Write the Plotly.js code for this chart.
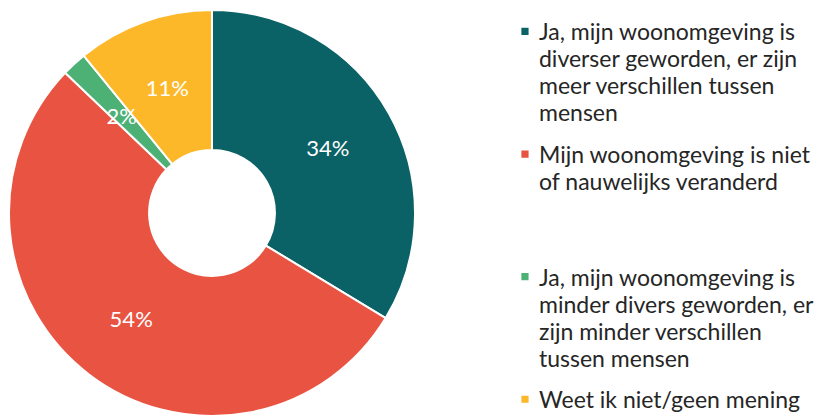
<!DOCTYPE html>
<html>
<head>
<meta charset="utf-8">
<script src="https://cdn.plot.ly/plotly-3.0.1.min.js"></script>
<style>html,body{margin:0;padding:0;background:#fff;overflow:hidden;}#chart{width:818px;height:416px;}</style>
</head>
<body>
<div id="chart"></div>
<script>
const labels = [
  "Ja, mijn woonomgeving is<br>diverser geworden, er zijn<br>meer verschillen tussen<br>mensen",
  "Mijn woonomgeving is niet<br>of nauwelijks veranderd",
  "Ja, mijn woonomgeving is<br>minder divers geworden, er<br>zijn minder verschillen<br>tussen mensen",
  "Weet ik niet/geen mening"
];
const values = [34, 54, 2, 11];
const colors = ["#0b6266", "#e95341", "#4db175", "#fdb829"];

// ---- styling / geometry (not data) ----
const W = 818, H = 416, MT = 10;
const cx = 212, cy = 213;           // pie centre in px
const R = 203;                      // outer radius px
const labelR = 133;                 // radius where slice labels sit
const hole = 0.31;
const plotH = H - MT;

function domainFor(r) {
  return {
    x: [(cx - r) / W, (cx + r) / W],
    y: [(H - cy - r) / plotH, (H - cy + r) / plotH]
  };
}

// extra blank lines after the 2nd legend entry to reproduce the gap
const legendLabels = labels.map((l, i) => i === 1 ? l + "<br>\u00a0<br>\u00a0" : l);
const pctText = values.map(v => v + "%");
const total = values.reduce((a, b) => a + b, 0);

// which slices get their label on the main pie (the ones wide enough)
const bigSlice = values.map(v => v / total > 0.2);

const mainTrace = {
  type: "pie",
  labels: legendLabels,
  values: values,
  marker: { colors: colors, line: { color: "#ffffff", width: 2 } },
  hole: hole,
  sort: false,
  direction: "clockwise",
  rotation: 0,
  text: pctText.map((t, i) => bigSlice[i] ? t : ""),
  textinfo: "text",
  textposition: "inside",
  insidetextorientation: "horizontal",
  textfont: { family: "Lato, sans-serif", size: 22, color: "#ffffff" },
  domain: domainFor(R),
  hoverinfo: "none"
};

// transparent label-only pies so small-slice labels sit in the middle of the ring
const labelTraces = [];
values.forEach((v, i) => {
  if (bigSlice[i]) return;
  const half = Math.PI * v / total;
  const rIns = 1 / (1 + 1 / Math.sin(half));
  const r = labelR / (1 - rIns);
  labelTraces.push({
    type: "pie",
    labels: legendLabels,
    values: values,
    marker: { colors: values.map(() => "rgba(0,0,0,0)"), line: { width: 0 } },
    sort: false,
    direction: "clockwise",
    rotation: 0,
    text: pctText.map((t, j) => j === i ? t : ""),
    textinfo: "text",
    textposition: "inside",
    insidetextorientation: "horizontal",
    textfont: { family: "Lato, sans-serif", size: 22, color: "#ffffff" },
    domain: domainFor(r),
    showlegend: false,
    hoverinfo: "none"
  });
});

const layout = {
  width: W,
  height: H,
  margin: { l: 0, r: 0, t: MT, b: 0, autoexpand: false },
  paper_bgcolor: "#ffffff",
  font: { family: "Lato, sans-serif", color: "#262626" },
  uniformtext: { mode: "show", minsize: 22 },
  showlegend: true,
  legend: {
    x: 0.6100, xanchor: "left",
    y: 1.0, yanchor: "top",
    valign: "top",
    font: { family: "Lato, sans-serif", size: 23, color: "#262626" },
    tracegroupgap: 0,
    itemwidth: 30
  }
};

Plotly.newPlot("chart", [mainTrace].concat(labelTraces), layout, { displayModeBar: false, staticPlot: true }).then(() => {
  document.querySelectorAll(".legend .legendpoints path").forEach(p => {
    const old = p.getAttribute("transform") || "";
    p.setAttribute("transform", old + " translate(6,0) scale(0.72)");
  });
  // tighter line spacing inside legend entries
  const f = 27 / (1.3 * 23);
  document.querySelectorAll(".legend text.legendtext tspan.line").forEach(t => {
    const dy = t.getAttribute("dy");
    if (dy && /em$/.test(dy)) {
      t.setAttribute("dy", (parseFloat(dy) * f) + "em");
    }
  });
});
</script>
</body>
</html>
